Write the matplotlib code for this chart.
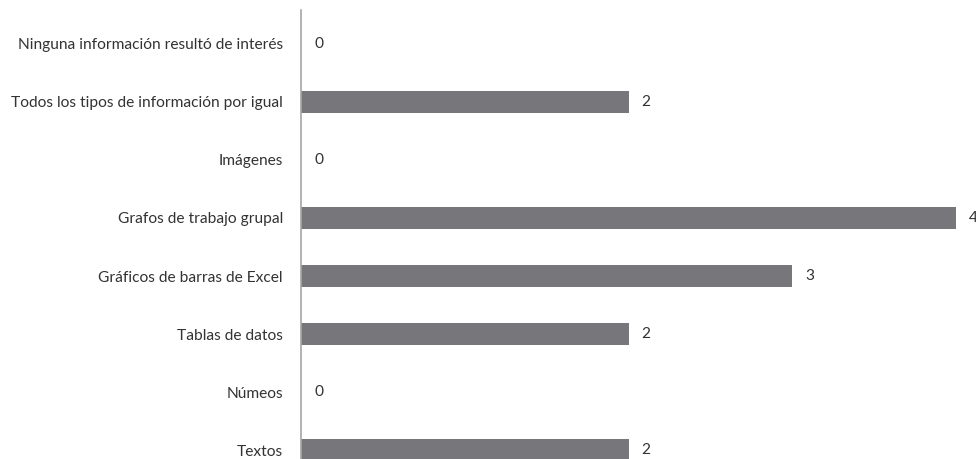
import matplotlib
matplotlib.use("Agg")
import matplotlib.pyplot as plt

categorias = ["Textos", "Númeos", "Tablas de datos", "Gráficos de barras de Excel",
              "Grafos de trabajo grupal", "Imágenes",
              "Todos los tipos de información por igual",
              "Ninguna información resultó de interés"]
valores = [2, 0, 2, 3, 4, 0, 2, 0]

plt.rcParams['font.family'] = ['Lato', 'DejaVu Sans']

W, H = 976, 459
fig = plt.figure(figsize=(W / 100, H / 100), dpi=100)
ax = fig.add_axes([301 / W, 0, (956 - 301) / W, 449 / H])

pos = list(range(len(categorias)))
ax.barh(pos, valores, height=0.38, color="#77777b")
ax.set_xlim(0, 4)
ax.set_ylim(-0.155, 7.586)

for p, v in zip(pos, valores):
    ax.annotate(str(v), (v, p), xytext=(9.5, 0), textcoords="offset points",
                va="center", ha="left", fontsize=11.2, color="#333333",
                annotation_clip=False)

ax.set_yticks(pos)
ax.set_yticklabels(categorias, fontsize=11.2, color="#333333")
ax.tick_params(axis="y", length=0, pad=13)
ax.set_xticks([])
for s in ["top", "right", "bottom"]:
    ax.spines[s].set_visible(False)
ax.spines["left"].set_color("#a6a6a6")
ax.spines["left"].set_linewidth(1.2)

fig.savefig("out.png", dpi=100)
